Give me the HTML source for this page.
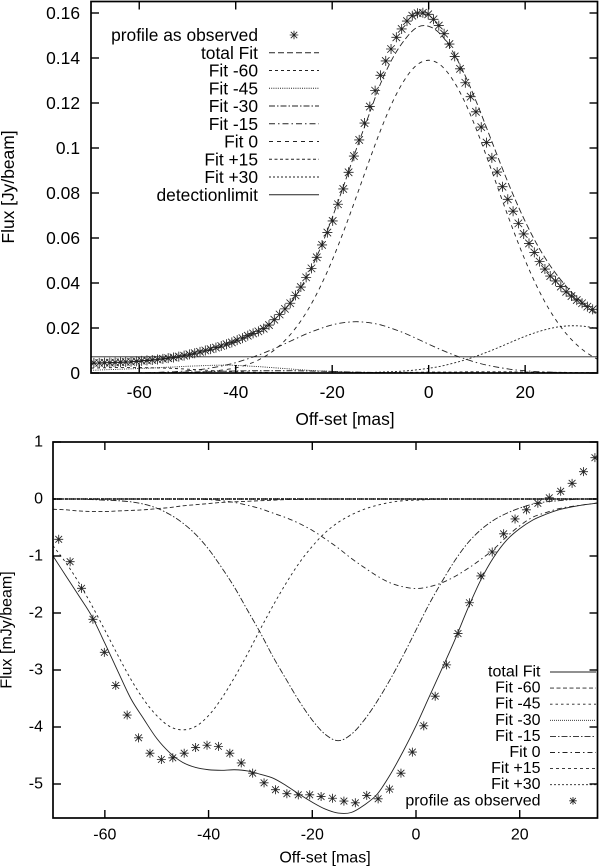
<!DOCTYPE html>
<html lang="en">
<head>
<meta charset="utf-8">
<title>Flux profiles</title>
<style>
html,body{margin:0;padding:0;background:#fff;}
svg{display:block;}
text{font-family:"Liberation Sans",Arial,sans-serif;fill:#000;}
</style>
</head>
<body>
<svg id="root" xmlns="http://www.w3.org/2000/svg" width="600" height="868" viewBox="0 0 600 868">
<rect x="0" y="0" width="600" height="868" fill="#fff"/>
<defs>
<clipPath id="clipTop"><rect x="91" y="1.5" width="506.5" height="371.5"/></clipPath>
<clipPath id="clipBottom"><rect x="53" y="442" width="544.5" height="376"/></clipPath>
</defs>
<g id="top"></g>
<g id="bottom"></g>
</svg>
<script>
// shared sampling of the fitted curves (mas)
const curveOffsets = [-70,-67.5,-65,-62.5,-60,-57.5,-55,-52.5,-50,-47.5,-45,-42.5,-40,-37.5,-35,-32.5,-30,-27.5,-25,-22.5,-20,-17.5,-15,-12.5,-10,-7.5,-5,-2.5,0,2.5,5,7.5,10,12.5,15,17.5,20,22.5,25,27.5,30,32.5,35];

// TOP PANEL (Jy/beam)
const topObservedOffsets = [-69.4,-68.3,-67.2,-66.1,-65,-63.9,-62.8,-61.7,-60.6,-59.5,-58.4,-57.3,-56.2,-55.1,-54,-52.9,-51.8,-50.7,-49.6,-48.5,-47.4,-46.3,-45.2,-44.1,-43,-41.9,-40.8,-39.7,-38.6,-37.5,-36.4,-35.3,-34.2,-33.1,-32,-30.9,-29.8,-28.7,-27.6,-26.5,-25.4,-24.3,-23.2,-22.1,-21,-19.9,-18.8,-17.7,-16.6,-15.5,-14.4,-13.3,-12.2,-11.1,-10,-8.9,-7.8,-6.7,-5.6,-4.5,-3.4,-2.3,-1.2,-0.1,1,2.1,3.2,4.3,5.4,6.5,7.6,8.7,9.8,10.9,12,13.1,14.2,15.3,16.4,17.5,18.6,19.7,20.8,21.9,23,24.1,25.2,26.3,27.4,28.5,29.6,30.7,31.8,32.9,34];
const topObserved = [.0045,.0045,.0046,.0046,.0047,.0048,.0049,.005,.0052,.0054,.0056,.0058,.006,.0063,.0066,.0069,.0073,.0077,.0083,.0088,.0094,.01,.0106,.0113,.012,.0128,.0136,.0146,.0155,.0166,.0176,.0185,.0197,.0213,.0237,.026,.0285,.031,.0345,.0382,.0425,.0465,.0514,.0569,.0624,.0676,.075,.0818,.0892,.0964,.1036,.1111,.1184,.1255,.1323,.1387,.144,.1492,.1529,.1564,.1588,.1599,.1601,.1594,.1572,.1544,.1508,.1462,.1407,.1352,.129,.1228,.1161,.1093,.1024,.0956,.0893,.0828,.0772,.0719,.0665,.0618,.0576,.0536,.0495,.0462,.0431,.0409,.0384,.0361,.0342,.0324,.031,.0295,.0283];
const topTotal = [.0042,.0044,.0046,.0048,.0051,.0056,.0062,.0069,.0079,.0091,.0105,.0122,.0142,.0165,.0192,.0228,.0278,.0345,.0438,.0552,.069,.084,.0995,.114,.1285,.1398,.148,.1535,.1541,.1505,.1428,.1325,.1199,.1062,.0924,.0793,.0674,.057,.0483,.0411,.0351,.0301,.0258];
const topFitM60 = [.0022,.0023,.0024,.0024,.0024,.0023,.0022,.002,.0017,.0014,.0011,.0008,.0006,.0004,.0003,.0002,.0001,0,0,0,0,0,0,0,0,0,0,0,0,0,0,0,0,0,0,0,0,0,0,0,0,0,0];
const topFitM45 = [.0012,.0014,.0016,.0018,.002,.0022,.0025,.0027,.003,.0032,.0034,.0035,.0034,.0031,.0028,.0024,.002,.0016,.0012,.0009,.0007,.0005,.0003,.0002,.0001,0,0,0,0,0,0,0,0,0,0,0,0,0,0,0,0,0,0];
const topFitM30 = [0,0,0,0,0,.0001,.0002,.0003,.0004,.0005,.0006,.0008,.0009,.001,.001,.001,.001,.001,.0009,.0008,.0007,.0005,.0004,.0003,.0002,.0001,0,0,0,0,0,0,0,0,0,0,0,0,0,0,0,0,0];
const topFitM15 = [0,0,0,.0001,.0001,.0002,.0004,.0006,.001,.0015,.0023,.0033,.0046,.0063,.0082,.0104,.0128,.0153,.0177,.0197,.0214,.0224,.0228,.0224,.0214,.0197,.0177,.0153,.0128,.0104,.0082,.0063,.0046,.0033,.0023,.0015,.001,.0006,.0004,.0002,.0001,.0001,0];
const topFit0 = [0,0,0,0,0,0,0,0,.0002,.0004,.0008,.0014,.0023,.0038,.0061,.0094,.014,.0202,.0282,.0382,.0501,.0637,.0783,.0933,.1077,.1204,.1303,.1368,.139,.1368,.1303,.1204,.1077,.0933,.0783,.0637,.0501,.0382,.0282,.0202,.014,.0094,.0061];
const topFitP15 = [0,0,0,0,0,0,0,0,0,0,0,0,0,0,0,0,0,0,0,0,.0001,.0001,.0001,.0001,.0002,.0002,.0003,.0003,.0004,.0004,.0004,.0005,.0005,.0005,.0005,.0005,.0004,.0004,.0003,.0003,.0002,.0002,.0001];
const topFitP30 = [0,0,0,0,0,0,0,0,0,0,0,0,0,0,0,0,0,0,0,0,0,0,.0001,.0002,.0004,.0006,.0009,.0014,.0021,.003,.0043,.0058,.0076,.0096,.0118,.0141,.0163,.0182,.0197,.0207,.021,.0207,.0197];
const topDetectionLimit = [.0072,.0072];
const topLimitOffsets = [-70,35];
const topXTicks = [-60,-40,-20,0,20];
const topYTicks = [0,.02,.04,.06,.08,.1,.12,.14,.16];
const topYTickLabels = ['0','0.02','0.04','0.06','0.08','0.1','0.12','0.14','0.16'];

// BOTTOM PANEL (mJy/beam)
const bottomObservedOffsets = [-68.9,-66.7,-64.5,-62.3,-60.1,-57.9,-55.7,-53.5,-51.3,-49.1,-46.9,-44.7,-42.5,-40.3,-38.1,-35.9,-33.7,-31.5,-29.3,-27.1,-24.9,-22.7,-20.5,-18.3,-16.1,-13.9,-11.7,-9.5,-7.3,-5.1,-2.9,-0.7,1.5,3.7,5.9,8.1,10.3,12.5,14.7,16.9,19.1,21.3,23.5,25.7,27.9,30.1,32.3,34.5];
const bottomObserved = [-.707,-1.1,-1.567,-2.11,-2.69,-3.27,-3.79,-4.19,-4.46,-4.57,-4.54,-4.46,-4.36,-4.32,-4.34,-4.46,-4.63,-4.81,-4.98,-5.1,-5.17,-5.19,-5.19,-5.22,-5.25,-5.3,-5.33,-5.2,-5.26,-5.09,-4.81,-4.44,-3.98,-3.46,-2.91,-2.36,-1.82,-1.35,-.93,-.61,-.35,-.19,-.075,.02,.135,.275,.48,.725];
const bottomTotal = [-1,-1.35,-1.7,-2.06,-2.53,-3.02,-3.5,-3.86,-4.2,-4.45,-4.62,-4.71,-4.75,-4.76,-4.75,-4.77,-4.83,-4.9,-5.03,-5.18,-5.32,-5.44,-5.51,-5.5,-5.37,-5.18,-4.84,-4.43,-3.98,-3.48,-2.98,-2.47,-1.92,-1.42,-1.02,-.72,-.52,-.37,-.27,-.19,-.14,-.1,-.07];
const bottomFitM60 = [-.18,-.19,-.21,-.22,-.22,-.21,-.2,-.19,-.17,-.15,-.12,-.1,-.08,-.06,-.05,-.04,-.03,-.02,-.01,-.01,0,0,0,0,0,0,0,0,0,0,0,0,0,0,0,0,0,0,0,0,0,0,0];
const bottomFitM45 = [-.82,-1.12,-1.47,-1.87,-2.3,-2.74,-3.16,-3.52,-3.8,-3.99,-4.05,-3.99,-3.8,-3.5,-3.13,-2.72,-2.28,-1.86,-1.47,-1.12,-.83,-.59,-.41,-.28,-.18,-.11,-.06,-.03,-.02,-.01,0,0,0,0,0,0,0,0,0,0,0,0,0];
const bottomFitM30 = [0,0,0,0,0,0,0,0,0,0,0,0,0,0,0,0,0,0,0,0,0,0,0,0,0,0,0,0,0,0,0,0,0,0,0,0,0,0,0,0,0,0,0];
const bottomFitM15 = [0,0,0,-.01,-.02,-.03,-.05,-.09,-.16,-.27,-.42,-.62,-.88,-1.2,-1.55,-1.95,-2.35,-2.78,-3.17,-3.55,-3.88,-4.13,-4.24,-4.13,-3.88,-3.55,-3.17,-2.75,-2.3,-1.85,-1.45,-1.08,-.77,-.54,-.37,-.25,-.16,-.09,-.05,-.03,-.01,0,0];
const bottomFit0 = [0,0,0,0,0,0,0,0,0,0,0,0,-.01,-.03,-.06,-.11,-.17,-.25,-.33,-.43,-.55,-.7,-.86,-1.04,-1.2,-1.35,-1.47,-1.54,-1.57,-1.54,-1.47,-1.36,-1.22,-1.06,-.88,-.66,-.47,-.32,-.24,-.17,-.13,-.1,-.07];
const bottomFitP15 = [0,0,0,0,0,0,0,0,0,0,0,0,0,0,0,0,0,0,0,0,0,0,0,0,0,0,0,0,0,0,0,0,0,0,0,0,0,0,0,0,0,0,0];
const bottomFitP30 = [0,0,0,0,0,0,0,0,0,0,0,0,0,0,0,0,0,0,0,0,0,0,0,0,0,0,0,0,0,0,0,0,0,0,0,0,0,0,0,0,0,0,0];
const bottomXTicks = [-60,-40,-20,0,20];
const bottomYTicks = [-5,-4,-3,-2,-1,0,1];
const bottomYTickLabels = ['-5','-4','-3','-2','-1','0','1'];

const NS = 'http://www.w3.org/2000/svg';

function addNode(parent, tag, name, interactable, attrs) {
  const el = document.createElementNS(NS, tag);
  
  
  for (const k in attrs) el.setAttribute(k, attrs[k]);
  parent.appendChild(el);
  return el;
}
function addText(parent, name, str, x, y, size, anchor, rotate) {
  const at = {x: x, y: y, 'font-size': size, 'text-anchor': anchor, 'dominant-baseline': 'central'};
  if (rotate) at.transform = 'rotate(-90 ' + x + ' ' + y + ')';
  const t = addNode(parent, 'text', name, 'false', at);
  t.textContent = str;
  return t;
}
function smoothPath(px, py) {
  let d = 'M' + px[0].toFixed(2) + ' ' + py[0].toFixed(2);
  for (let i = 0; i < px.length - 1; i++) {
    const i0 = Math.max(i - 1, 0), i3 = Math.min(i + 2, px.length - 1);
    const c1x = px[i] + (px[i + 1] - px[i0]) / 6, c1y = py[i] + (py[i + 1] - py[i0]) / 6;
    const c2x = px[i + 1] - (px[i3] - px[i]) / 6, c2y = py[i + 1] - (py[i3] - py[i]) / 6;
    d += 'C' + c1x.toFixed(2) + ' ' + c1y.toFixed(2) + ' ' + c2x.toFixed(2) + ' ' + c2y.toFixed(2) + ' ' + px[i + 1].toFixed(2) + ' ' + py[i + 1].toFixed(2);
  }
  return d;
}
function starPath(cx, cy, r) {
  const q = r * 0.75;
  return 'M' + (cx - r) + ' ' + cy + 'H' + (cx + r) +
    'M' + cx + ' ' + (cy - r) + 'V' + (cy + r) +
    'M' + (cx - q) + ' ' + (cy - q) + 'L' + (cx + q) + ' ' + (cy + q) +
    'M' + (cx - q) + ' ' + (cy + q) + 'L' + (cx + q) + ' ' + (cy - q);
}

function drawPanel(cfg) {
  const g = document.getElementById(cfg.id);
  const X = v => cfg.x0 + (v - (-70)) * (cfg.x1 - cfg.x0) / 105;
  const Y = v => cfg.yZero - v * cfg.yScale;
  const plot = addNode(g, 'g', 'plot-area', 'false', {'clip-path': 'url(#' + cfg.clip + ')'});

  cfg.series.forEach(s => {
    const xs = s.x || curveOffsets;
    addNode(plot, 'path', s.name, 'false', {
      d: smoothPath(xs.map(X), s.y.map(Y)), fill: 'none', stroke: '#222',
      'stroke-width': s.w || 0.9, 'stroke-dasharray': s.dash || 'none'
    });
  });
  const stars = addNode(plot, 'g', 'observed-profile', 'false', {});
  cfg.obsX.forEach((v, i) => {
    addNode(stars, 'path', 'observed-point', 'false', {
      d: starPath(X(v), Y(cfg.obsY[i]), cfg.star), fill: 'none', stroke: '#222', 'stroke-width': 0.85
    });
  });

  // frame
  addNode(g, 'rect', 'plot-frame', 'false', {
    x: cfg.x0, y: cfg.yTop, width: cfg.x1 - cfg.x0, height: cfg.yBot - cfg.yTop,
    fill: 'none', stroke: '#000', 'stroke-width': 1.7
  });

  // ticks and labels
  cfg.xTicks.forEach(v => {
    const x = X(v);
    addNode(g, 'line', 'x-tick-bottom', 'false', {x1: x, x2: x, y1: cfg.yBot, y2: cfg.yBot - 8, stroke: '#000', 'stroke-width': 1.4});
    addNode(g, 'line', 'x-tick-top', 'false', {x1: x, x2: x, y1: cfg.yTop, y2: cfg.yTop + 8, stroke: '#000', 'stroke-width': 1.4});
    addText(g, 'x-tick-label', String(v), x, cfg.xLabelY, cfg.font, 'middle');
  });
  cfg.yTicks.forEach((v, i) => {
    const y = Y(v);
    addNode(g, 'line', 'y-tick-left', 'false', {x1: cfg.x0, x2: cfg.x0 + 8, y1: y, y2: y, stroke: '#000', 'stroke-width': 1.4});
    addNode(g, 'line', 'y-tick-right', 'false', {x1: cfg.x1, x2: cfg.x1 - 8, y1: y, y2: y, stroke: '#000', 'stroke-width': 1.4});
    addText(g, 'y-tick-label', cfg.yLabels[i], cfg.yLabelX, y, cfg.font, 'end');
  });
  addText(g, 'x-axis-title', 'Off-set [mas]', cfg.xTitle[0], cfg.xTitle[1], cfg.font, 'middle');
  addText(g, 'y-axis-title', cfg.yTitleText, cfg.yTitle[0], cfg.yTitle[1], cfg.font, 'middle', true);

  // legend
  const lg = addNode(g, 'g', 'legend', 'false', {});
  cfg.legend.forEach((e, i) => {
    const y = cfg.legY0 + i * cfg.legStep;
    const row = addNode(lg, 'g', 'legend-entry', 'false', {});
    addText(row, 'legend-label', e.label, cfg.legTextX, y, cfg.font, 'end');
    if (e.star) {
      addNode(row, 'path', 'legend-star', 'false', {d: starPath((cfg.legX0 + cfg.legX1) / 2, y, cfg.star - 0.7), fill: 'none', stroke: '#222', 'stroke-width': 0.85});
    } else {
      addNode(row, 'line', 'legend-line', 'false', {x1: cfg.legX0, x2: cfg.legX1, y1: y, y2: y, stroke: '#222', 'stroke-width': e.w || 0.9, 'stroke-dasharray': e.dash || 'none'});
    }
  });
}

const dTotalTop = '6,3', dM60 = '3,3', dDot = '1,1.2', dM30 = '6,2,1.5,2', dM15 = '6,3,1.5,3', d0 = '4,4', dP15 = '3,2.5', dP30 = '2,2';

drawPanel({
  id: 'top', clip: 'clipTop', x0: 91, x1: 597.5, yTop: 1.5, yBot: 373, yZero: 373, yScale: 2250, star: 5,
  font: 17.4, xLabelY: 392, yLabelX: 80, xTitle: [345, 419], yTitle: [8, 187], yTitleText: 'Flux [Jy/beam]',
  xTicks: topXTicks, yTicks: topYTicks, yLabels: topYTickLabels, obsX: topObservedOffsets, obsY: topObserved,
  series: [
    {name: 'line-total-fit', y: topTotal, dash: dTotalTop},
    {name: 'line-fit-m60', y: topFitM60, dash: dM60},
    {name: 'line-fit-m45', y: topFitM45, dash: dDot},
    {name: 'line-fit-m30', y: topFitM30, dash: dM30},
    {name: 'line-fit-m15', y: topFitM15, dash: dM15},
    {name: 'line-fit-0', y: topFit0, dash: d0},
    {name: 'line-fit-p15', y: topFitP15, dash: dP15},
    {name: 'line-fit-p30', y: topFitP30, dash: dP30},
    {name: 'line-detection-limit', x: topLimitOffsets, y: topDetectionLimit}
  ],
  legTextX: 258, legX0: 269, legX1: 319, legY0: 35, legStep: 17.75,
  legend: [
    {label: 'profile as observed', star: true},
    {label: 'total Fit', dash: dTotalTop},
    {label: 'Fit -60', dash: dM60},
    {label: 'Fit -45', dash: dDot},
    {label: 'Fit -30', dash: dM30},
    {label: 'Fit -15', dash: dM15},
    {label: 'Fit 0', dash: d0},
    {label: 'Fit +15', dash: dP15},
    {label: 'Fit +30', dash: dP30},
    {label: 'detectionlimit'}
  ]
});

const bM60 = '4,2.5', bM45 = '2.5,3', bDot = '1,1', bM15 = '6,2,1.5,2', b0 = '5,3,1.5,3', bP15 = '3,3', bP30 = '2,2';

drawPanel({
  id: 'bottom', clip: 'clipBottom', x0: 53, x1: 597.5, yTop: 442, yBot: 818, yZero: 499, yScale: 57, star: 4.5,
  font: 16, xLabelY: 835, yLabelX: 43, xTitle: [325, 858], yTitle: [7, 630], yTitleText: 'Flux [mJy/beam]',
  xTicks: bottomXTicks, yTicks: bottomYTicks, yLabels: bottomYTickLabels, obsX: bottomObservedOffsets, obsY: bottomObserved,
  series: [
    {name: 'line-total-fit', y: bottomTotal},
    {name: 'line-fit-m60', y: bottomFitM60, dash: bM60},
    {name: 'line-fit-m45', y: bottomFitM45, dash: bM45},
    {name: 'line-fit-m30', y: bottomFitM30, dash: bDot, w: 1.4},
    {name: 'line-fit-m15', y: bottomFitM15, dash: bM15},
    {name: 'line-fit-0', y: bottomFit0, dash: b0},
    {name: 'line-fit-p15', y: bottomFitP15, dash: bP15, w: 1.4},
    {name: 'line-fit-p30', y: bottomFitP30, dash: bP30, w: 1.4}
  ],
  legTextX: 540.5, legX0: 550, legX1: 596, legY0: 672, legStep: 16.1,
  legend: [
    {label: 'total Fit'},
    {label: 'Fit -60', dash: bM60},
    {label: 'Fit -45', dash: bM45},
    {label: 'Fit -30', dash: bDot},
    {label: 'Fit -15', dash: bM15},
    {label: 'Fit 0', dash: b0},
    {label: 'Fit +15', dash: bP15},
    {label: 'Fit +30', dash: bP30},
    {label: 'profile as observed', star: true}
  ]
});
</script>
</body>
</html>
